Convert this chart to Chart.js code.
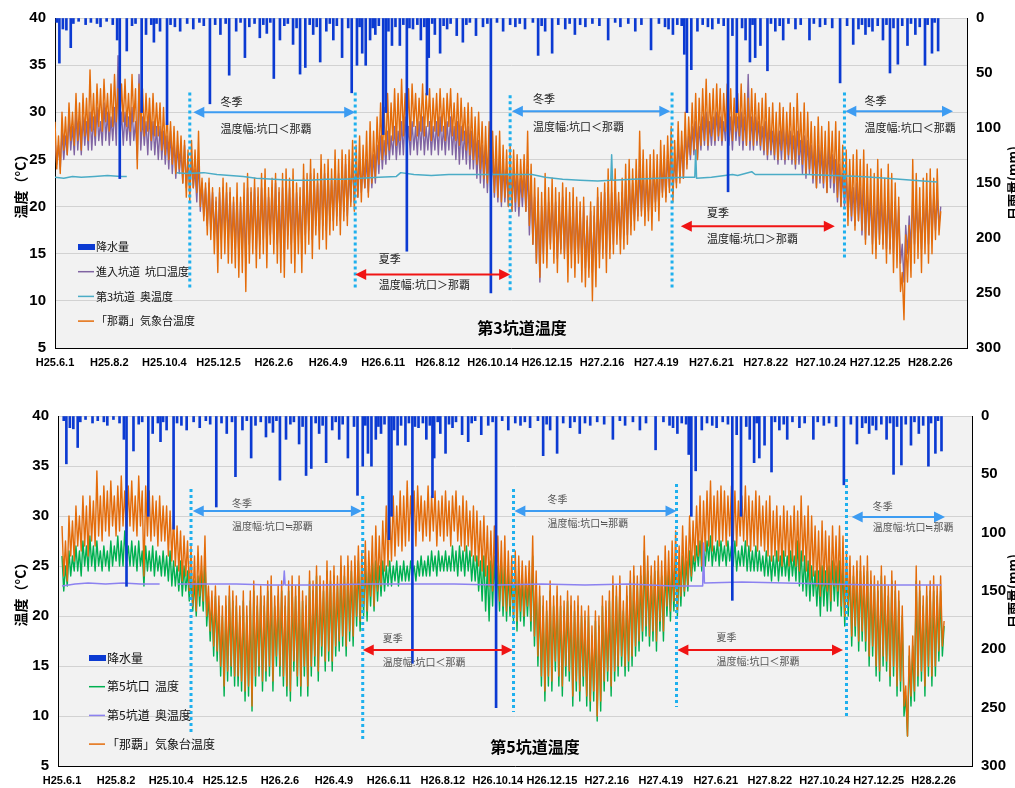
<!DOCTYPE html>
<html>
<head>
<meta charset="utf-8">
<script src="https://cdn.jsdelivr.net/npm/chart.js@4.4.1/dist/chart.umd.min.js"></script>
<style>
html, body { margin: 0; padding: 0; background: #fff; overflow: hidden; }
#box3 { position: absolute; left: 0; top: 0; }
#box5 { position: absolute; left: 0; top: 398px; }
</style>
</head>
<body>
<div id="box3"><canvas id="chart3" width="1015" height="390"></canvas></div>
<div id="box5"><canvas id="chart5" width="1015" height="390"></canvas></div>
<script>
// day 0 = H25.6.1
const tickDays = [0, 62, 125, 187, 250, 312, 375, 437, 500, 562, 625, 687, 750, 812, 875, 937, 1000];
const tickLabels = ['H25.6.1', 'H25.8.2', 'H25.10.4', 'H25.12.5', 'H26.2.6', 'H26.4.9', 'H26.6.11', 'H26.8.12',
  'H26.10.14', 'H26.12.15', 'H27.2.16', 'H27.4.19', 'H27.6.21', 'H27.8.22', 'H27.10.24', 'H27.12.25', 'H28.2.26'];

const TEMP_STEP = 2; // days between readings below, one row = 40 days

// 「那覇」気象台温度
const nahaTemp = [
  29, 24, 27.5, 23.5, 30, 26, 29.5, 25.5, 31, 27, 30, 26.5, 32, 27, 31, 26, 32, 27.5, 31.5, 27,
  34.5, 28, 32, 27.5, 33, 28.5, 32.5, 28, 33.5, 29, 32, 28, 33, 28.5, 34, 29, 32.5, 28, 33, 29,
  33.5, 28.5, 32, 28, 34, 29, 32.5, 24, 33, 28, 32.5, 27.5, 32, 28, 31.5, 27, 32, 27.5, 31, 27.5,
  31, 26, 30.5, 25.5, 30, 25, 29, 24.5, 28.5, 23.5, 28, 24, 27.5, 22.5, 27, 21, 26, 20.5, 27, 22,
  26, 21.5, 28, 20, 23, 18.5, 22.5, 17, 23, 16.5, 22, 15, 21, 13, 22, 14.5, 23, 15, 22.5, 14,
  22, 14, 21, 13.5, 22.5, 12.5, 21, 13, 22.5, 11, 23.5, 14, 22, 15, 23, 13.5, 22, 14.5, 23.5, 15,
  24, 13.5, 22, 16, 23, 15, 23.5, 14, 22, 13, 23.5, 12.5, 24, 15.5, 23, 14, 24, 13, 22.5, 15,
  22, 13, 24.5, 15, 23.5, 16, 25, 14.5, 24, 17, 23.5, 15.5, 25.5, 16.5, 24.5, 15.5, 25, 17, 24, 17.5,
  26, 18, 25, 17, 26, 18.5, 25.5, 18, 26, 20, 27, 19.5, 26.5, 21, 27.5, 20.5, 26.5, 22, 28, 21,
  29, 22.5, 28, 23, 29.5, 24.5, 31, 25, 30.5, 25.5, 32, 26, 31, 27, 32.5, 26.5, 32, 27, 33.5, 27.5,
  32, 28, 32.5, 27, 33, 28.5, 32, 27.5, 31.5, 28, 33, 27.5, 32, 28.5, 32.5, 27, 31.5, 28, 32, 27.5,
  32.5, 28, 31.5, 27, 32, 28.5, 32.5, 27.5, 31, 27, 32, 26.5, 31.5, 27, 30.5, 26, 31, 25.5, 30.5, 25,
  29.5, 24.5, 30, 24, 29, 23, 28.5, 22.5, 29, 22, 28, 21.5, 27.5, 21, 28, 20.5, 26.5, 21, 26, 20,
  26.5, 19.5, 26, 20.5, 25.5, 20, 25, 21, 25.5, 19.5, 28, 18, 24.5, 16, 23, 14, 22, 12.5, 21.5, 14,
  23.5, 13.5, 22, 15.5, 23, 14, 22, 13, 21.5, 15, 22.5, 14.5, 22, 12, 21.5, 13.5, 22, 12.5, 21, 14,
  20.5, 12, 21, 11.5, 19, 12.5, 20.5, 10, 20, 11.5, 22, 13.5, 21.5, 14.5, 22.5, 13, 24, 14.5, 23, 15,
  24, 16, 21.5, 15, 23, 15.5, 24.5, 16, 25, 17, 24, 17.5, 25, 18.5, 28, 19, 26, 18, 25, 18.5,
  25.5, 17.5, 26, 19.5, 25.5, 18.5, 27, 21, 26.5, 20.5, 27.5, 21.5, 28.5, 20.5, 27, 22, 29, 22.5, 28, 23,
  30, 24, 29.5, 25.5, 31, 26, 32, 25, 31.5, 26.5, 32.5, 27, 33.5, 26.5, 32, 27.5, 32.5, 27, 33, 27.5,
  32.5, 27, 32, 28, 33, 27.5, 32.5, 27, 31.5, 28, 32, 27.5, 33, 27, 32, 26.5, 31.5, 27, 32.5, 26.5,
  32, 27, 31, 26.5, 31.5, 26, 32, 25.5, 30.5, 26, 31, 25.5, 30, 25, 31, 26, 30.5, 25, 30, 25.5,
  31, 25, 30.5, 24.5, 32, 25.5, 30, 24.5, 31, 23.5, 30, 24, 29, 23, 28.5, 22, 29.5, 23, 28.5, 22.5,
  28, 21.5, 29, 23, 28, 22.5, 29, 21, 28, 20, 26.5, 21, 26, 18, 25, 19, 25.5, 17.5, 26, 18.5,
  25, 17.5, 26, 16, 24.5, 17, 24, 15, 23.5, 14.5, 25, 16, 24, 15.5, 23, 14, 24.5, 15, 23.5, 13,
  22.5, 13.5, 21, 11, 13, 8, 17, 12, 18, 12.5, 25, 14, 23.5, 14.5, 22, 13, 23, 15, 23.5, 14,
  24, 15, 23, 16.5, 24, 17, 19.5
];

// 進入坑道 坑口温度 (第3坑道)
const shaft3EntranceTemp = [
  27, 24.5, 26.5, 24, 28, 25, 27.5, 25.5, 29.5, 26, 28.5, 25.5, 30, 26, 29, 25.5, 29.5, 26.5, 29, 26,
  30, 26, 29.5, 26.5, 30.5, 27, 29, 26.5, 31, 27, 30, 26.5, 29.5, 27, 30.5, 26.5, 36, 27, 30, 26.5,
  30, 27, 29.5, 26.5, 30.5, 27, 29, 25, 34, 26, 29.5, 26.5, 29, 25.5, 30, 26, 29, 25.5, 28.5, 25,
  28.5, 25, 28, 24.5, 27.5, 24, 28, 23.5, 27, 23, 26.5, 23.5, 26, 22.5, 26.5, 22, 25.5, 21.5, 25, 22,
  24, 20.5, 25, 19.5, 22.5, 19, 22, 18, 22.5, 17.5, 21.5, 17, 20.5, 16, 21.5, 16.5, 22, 17, 21.5, 16.5,
  21.5, 16, 20.5, 15.5, 21, 15, 20.5, 15.5, 21, 14, 22, 16, 21.5, 16.5, 22, 15.5, 21, 16, 22, 16.5,
  22.5, 16, 21, 17, 22, 16.5, 22.5, 16, 21.5, 15.5, 22, 15, 22.5, 17, 22, 16, 22.5, 15.5, 21.5, 17,
  21, 15.5, 23, 17, 22.5, 17.5, 23.5, 16.5, 23, 18, 22.5, 17.5, 24, 18, 23.5, 17.5, 23.5, 18.5, 23, 18.5,
  24, 19, 23.5, 18.5, 24, 19.5, 24.5, 19, 24, 20.5, 25, 20.5, 24.5, 21, 25, 21.5, 24.5, 22, 25, 21.5,
  26, 22, 25.5, 22.5, 26.5, 23.5, 27.5, 24, 27, 24.5, 28, 25, 27.5, 25.5, 28.5, 25, 28, 25.5, 29, 25.5,
  29.5, 26, 28.5, 25.5, 29, 26, 28.5, 25.5, 29, 26, 29.5, 25.5, 28.5, 26, 29, 25.5, 28.5, 26, 29, 25.5,
  29.5, 26, 28.5, 25.5, 29, 26, 29.5, 25.5, 28.5, 25, 29, 24.5, 28.5, 25, 28, 24.5, 28.5, 24, 28, 24,
  27.5, 23, 27, 22.5, 26.5, 22, 26.5, 21.5, 26, 21, 25.5, 21, 25, 20.5, 25.5, 20, 24.5, 20.5, 24, 20,
  24.5, 19.5, 24, 19.5, 23.5, 19, 23, 20, 23.5, 19.5, 24, 17, 22, 16, 21, 14, 20.5, 12, 20, 15,
  21.5, 15, 20.5, 16, 21, 15.5, 20.5, 14.5, 20, 15.5, 21, 15, 20.5, 14, 20, 15, 20.5, 14, 20, 15,
  19.5, 14, 20, 13.5, 18.5, 13.5, 19.5, 13, 19, 13.5, 21, 15, 20.5, 15.5, 21.5, 15, 22, 15.5, 21.5, 16,
  22, 17, 20.5, 16.5, 21.5, 17, 22.5, 17, 23, 18, 22.5, 18.5, 23, 19, 24, 19.5, 23.5, 19, 23, 19.5,
  23.5, 19, 24, 20.5, 23.5, 20, 25, 21.5, 24.5, 21, 25.5, 22, 26, 21.5, 25, 22.5, 27, 23, 26.5, 23,
  28, 24.5, 27.5, 25, 28.5, 25.5, 29, 25, 28.5, 26, 29.5, 26.5, 30, 26, 29, 26.5, 29.5, 26.5, 30, 27,
  29.5, 26.5, 29, 27, 30, 26.5, 29.5, 26, 30.5, 27, 29.5, 26.5, 30, 26, 29.5, 26.5, 34, 26, 29.5, 26,
  29.5, 26.5, 29, 26, 28.5, 25.5, 29, 25, 28.5, 25.5, 28, 25, 28.5, 24.5, 28, 25, 28.5, 24.5, 28, 25,
  28, 24.5, 27.5, 24, 28, 24.5, 27, 23.5, 27.5, 23, 27, 23.5, 26.5, 22.5, 26, 22, 26.5, 22.5, 26, 22,
  26, 21.5, 26.5, 22, 25.5, 21.5, 25, 20.5, 24.5, 20, 23.5, 20, 23, 19, 22.5, 18.5, 22, 18, 22.5, 18.5,
  22, 17, 22.5, 16.5, 21.5, 17, 21, 16, 20.5, 15.5, 21.5, 16.5, 21, 16, 20.5, 15.5, 21, 15.5, 20.5, 15,
  20.5, 15.5, 20, 14, 16, 12, 18, 15, 19, 15.5, 21, 16, 20.5, 16.5, 20, 15.5, 20.5, 16.5, 21, 16,
  21.5, 17, 21, 17.5, 21, 18, 20
];

// 第5坑口 温度
const shaft5EntranceTemp = [
  26, 22.5, 25, 23, 26.5, 24, 26, 24.5, 27, 24.5, 26.5, 24, 27.5, 25, 27, 24.5, 28, 25, 27, 24.5,
  27.5, 25, 26.5, 24.5, 27, 25, 26.5, 24.5, 27.5, 25, 27, 25.5, 28, 25, 27.5, 25, 28.5, 25.5, 27, 25,
  27.5, 25, 27, 24.5, 27.5, 25, 26.5, 23, 27, 24.5, 26.5, 24.5, 27, 24, 26.5, 24.5, 26, 24, 26.5, 24,
  26, 23.5, 26.5, 23, 25.5, 23, 25, 22.5, 25.5, 22, 25, 22.5, 24.5, 21.5, 24, 20.5, 23.5, 20, 24, 21,
  24.5, 20.5, 26, 19, 22, 17.5, 21.5, 16, 22, 15.5, 21, 14, 20, 12, 21, 13.5, 22, 14, 21.5, 13,
  21, 13, 20, 12.5, 21.5, 11.5, 20, 12, 21.5, 10.5, 22.5, 13, 21, 14, 22, 12.5, 21, 13.5, 22.5, 14,
  23, 12.5, 21, 15, 22, 14, 22.5, 13, 21, 12, 22.5, 11.5, 23, 14.5, 22, 13, 23, 12, 21.5, 14,
  21, 12, 23.5, 14, 22.5, 15, 24, 13.5, 23, 16, 22.5, 14.5, 24.5, 15.5, 23.5, 14.5, 24, 16, 23, 16.5,
  25, 17, 24, 16, 25, 17.5, 24.5, 17, 25, 19, 25.5, 18.5, 25, 20, 25.5, 19.5, 25, 21, 25.5, 20.5,
  25.5, 21.5, 25, 22, 25.5, 22.5, 25, 23, 25.5, 23, 25, 23.5, 25.5, 23, 25, 23.5, 25.5, 23.5, 25, 23.5,
  25.5, 24, 25, 23.5, 25.5, 24, 26, 24, 25.5, 24, 26, 24, 26.5, 24.5, 26, 24, 26.5, 24.5, 26, 24.5,
  26.5, 24.5, 26, 24.5, 27, 24.5, 26.5, 24, 27, 24.5, 26.5, 24, 27, 24.5, 26.5, 23.5, 26, 23.5, 26, 22.5,
  25.5, 21.5, 26, 20.5, 25, 19.5, 25.5, 21, 26, 20, 25, 20.5, 25.5, 20, 25, 19.5, 24.5, 20, 24, 19.5,
  25, 18.5, 24.5, 19.5, 24, 19, 23.5, 20, 24, 18.5, 26, 17, 23, 15, 22, 13, 21, 11.5, 20.5, 13,
  22.5, 12.5, 21, 14.5, 22, 13, 21, 12, 20.5, 14, 21.5, 13.5, 21, 11, 20.5, 12.5, 21, 11.5, 20, 13,
  19.5, 11, 20, 10.5, 18, 11.5, 19.5, 9.5, 19, 10.5, 21, 12.5, 20.5, 13.5, 21.5, 12, 23, 13.5, 22, 14,
  23, 15, 20.5, 14, 22, 14.5, 23.5, 15, 24, 16, 23, 16.5, 24, 17.5, 26.5, 18, 24.5, 17, 24, 17.5,
  24.5, 16.5, 24.5, 18.5, 24, 17.5, 25, 20, 24.5, 19.5, 25, 20.5, 25.5, 20, 25, 21, 26, 22, 25.5, 22.5,
  26.5, 23.5, 26, 24.5, 27, 25, 27.5, 24.5, 27, 25, 27.5, 25.5, 28, 25, 27, 25.5, 27.5, 25, 27.5, 25.5,
  27, 25, 27.5, 25.5, 27, 25, 27.5, 24.5, 26.5, 25, 27, 25, 27.5, 24.5, 27, 24.5, 26.5, 24.5, 27, 24.5,
  26.5, 24.5, 26, 24, 26.5, 24, 26, 23.5, 26, 24, 26.5, 23.5, 26, 24, 26.5, 24, 26, 23.5, 26.5, 24,
  26, 23.5, 27.5, 23, 26.5, 22.5, 26, 22, 25.5, 21.5, 25, 22, 24.5, 21, 24.5, 20, 25, 21, 24.5, 20.5,
  25, 20.5, 25.5, 21.5, 25, 21, 25.5, 20, 25, 19, 24.5, 20, 24.5, 17, 24, 18, 24.5, 16.5, 24.5, 17.5,
  24, 16.5, 24.5, 15, 23.5, 16, 23, 14, 22.5, 13.5, 24, 15, 23, 14.5, 22, 13, 23.5, 14, 22.5, 12,
  21.5, 12.5, 20, 10, 12, 8, 16, 11, 17, 11.5, 23.5, 13, 22.5, 13.5, 21, 12, 22, 14, 22.5, 13,
  22.5, 14, 22, 15.5, 22.5, 16, 19
];

// 第3坑道 奥温度 (null = no record)
const shaft3InnerDays = [0, 10, 20, 30, 45, 60, 75, 82, 83, 139, 150, 170, 185, 200, 215, 230, 250, 270, 290, 310,
  330, 350, 370, 390, 395, 410, 430, 450, 470, 490, 510, 530, 545, 560, 580, 600, 620, 635, 636, 637,
  660, 690, 720, 731, 732, 733, 750, 774, 780, 796, 800, 830, 860, 890, 920, 950, 980, 1008];
const shaft3InnerTemp = [23.1, 23.0, 23.2, 23.1, 23.2, 23.3, 23.2, 23.2, null, 23.6, 23.5, 23.6, 23.4, 23.3, 23.2, 23.0, 22.9, 22.8, 22.8, 22.9,
  22.9, 23.0, 23.1, 23.2, 23.6, 23.4, 23.3, 23.4, 23.4, 23.4, 23.4, 23.4, 23.4, 23.1, 22.9, 22.8, 22.7, 22.8, 25.5, 22.8,
  22.9, 23.0, 23.1, 23.1, 26.0, 23.0, 23.1, 23.4, 23.3, 23.7, 23.4, 23.4, 23.4, 23.3, 23.2, 23.0, 22.8, 22.6];

// 第5坑道 奥温度
const shaft5InnerDays = [0, 15, 30, 50, 70, 90, 112, 113, 133, 160, 200, 240, 254, 255, 256, 300, 350, 400, 450, 500,
  550, 600, 650, 700, 735, 736, 737, 780, 830, 880, 930, 1009];
const shaft5InnerTemp = [23.0, 23.2, 23.3, 23.2, 23.3, 23.2, 23.2, null, 23.2, 23.2, 23.2, 23.1, 23.1, 24.5, 23.1, 23.1, 23.2, 23.2, 23.2, 23.1,
  23.2, 23.1, 23.2, 23.0, 23.0, 27.3, 23.3, 23.4, 23.3, 23.2, 23.1, 23.1];

// 降水量 (mm/day)
const rainDays = [2, 5, 9, 13, 18, 21, 27, 35, 41, 48, 52, 59, 66, 71, 74, 82, 88, 92, 99, 104,
  110, 113, 116, 120, 128, 132, 137, 143, 151, 158, 165, 170, 177, 183, 189, 195, 199, 207, 212, 217,
  222, 228, 234, 238, 242, 246, 250, 257, 262, 266, 272, 276, 280, 286, 291, 295, 299, 303, 310, 314,
  318, 322, 328, 335, 339, 345, 348, 351, 355, 360, 363, 366, 370, 375, 378, 381, 385, 389, 394, 398,
  402, 405, 409, 414, 418, 422, 425, 427, 431, 434, 440, 444, 448, 452, 459, 466, 470, 474, 481, 489,
  494, 498, 505, 512, 520, 526, 531, 537, 546, 552, 556, 560, 568, 575, 583, 588, 594, 600, 606, 614,
  622, 632, 640, 646, 655, 663, 670, 681, 690, 697, 701, 706, 711, 716, 719, 722, 727, 734, 740, 746,
  751, 758, 764, 769, 774, 779, 785, 789, 794, 797, 800, 806, 814, 818, 823, 828, 832, 838, 846, 852,
  862, 867, 874, 880, 888, 897, 905, 912, 918, 922, 926, 930, 934, 940, 946, 950, 954, 958, 963, 968,
  974, 978, 983, 988, 994, 997, 1002, 1005, 1009];
const rainMm = [4, 41, 10, 11, 27, 5, 3, 6, 4, 5, 8, 3, 6, 20, 146, 30, 7, 5, 86, 15,
  6, 22, 5, 12, 97, 6, 8, 12, 5, 10, 4, 7, 78, 6, 15, 5, 52, 12, 4, 36,
  8, 5, 18, 6, 14, 4, 55, 20, 7, 5, 24, 9, 51, 45, 6, 15, 8, 40, 12, 5,
  20, 7, 36, 9, 68, 43, 8, 32, 43, 20, 9, 15, 7, 106, 86, 12, 25, 8, 25, 6,
  212, 9, 10, 6, 20, 8, 70, 36, 5, 15, 32, 7, 10, 5, 16, 22, 6, 4, 16, 8,
  5, 250, 4, 12, 6, 8, 5, 10, 4, 34, 7, 12, 32, 6, 10, 5, 15, 6, 8, 5,
  7, 20, 4, 8, 5, 12, 6, 29, 5, 8, 10, 15, 6, 7, 33, 86, 47, 12, 6, 8,
  10, 5, 7, 158, 16, 86, 9, 20, 40, 6, 36, 25, 48, 5, 12, 7, 20, 5, 10, 6,
  20, 5, 8, 6, 9, 59, 7, 24, 10, 6, 15, 8, 12, 7, 20, 6, 50, 9, 42, 7,
  25, 5, 15, 8, 43, 6, 32, 4, 30];

const NARROW = "'Liberation Sans Narrow', 'Liberation Sans', Arial, sans-serif";
const JP = "'Noto Sans CJK JP', sans-serif";
const ORANGE = '#e46c0a';
const RAIN = '#0b3ad2';
const WINTER = '#3d9cf2';
const SUMMER = '#f01414';

const series = vals => vals.map((v, i) => ({ x: i * TEMP_STEP, y: v }));
const pairs = (days, vals) => days.map((d, i) => ({ x: d, y: vals[i] }));

function arrow(ctx, x1, x2, y, color) {
  const h = 11, w = 5.5;
  ctx.strokeStyle = color; ctx.fillStyle = color; ctx.lineWidth = 2;
  ctx.beginPath(); ctx.moveTo(x1 + h - 1, y); ctx.lineTo(x2 - h + 1, y); ctx.stroke();
  ctx.beginPath(); ctx.moveTo(x1, y); ctx.lineTo(x1 + h, y - w); ctx.lineTo(x1 + h, y + w); ctx.closePath(); ctx.fill();
  ctx.beginPath(); ctx.moveTo(x2, y); ctx.lineTo(x2 - h, y - w); ctx.lineTo(x2 - h, y + w); ctx.closePath(); ctx.fill();
}

function overlay(n) {
  return {
    id: 'overlay',
    beforeDraw(chart) {
      const { ctx, chartArea: a } = chart;
      ctx.save();
      ctx.fillStyle = '#f2f2f2';
      ctx.fillRect(a.left, a.top, a.right - a.left, a.bottom - a.top);
      ctx.restore();
    },
    afterDatasetsDraw(chart) {
      const { ctx, chartArea: a } = chart;
      const px = d => chart.scales.x.getPixelForValue(d);
      const py = t => chart.scales.y.getPixelForValue(t);
      ctx.save();
      // season boundaries
      ctx.strokeStyle = '#1eb0ee'; ctx.lineWidth = 3; ctx.setLineDash([3, 3]);
      n.bounds.forEach(b => {
        ctx.beginPath(); ctx.moveTo(px(b[0]), py(b[1])); ctx.lineTo(px(b[0]), py(b[2])); ctx.stroke();
      });
      ctx.setLineDash([]);
      n.winter.forEach(w => arrow(ctx, px(w[0]), px(w[1]), py(w[2]), WINTER));
      n.summer.forEach(s => arrow(ctx, px(s[0]), px(s[1]), py(s[2]), SUMMER));

      ctx.fillStyle = n.noteColor;
      ctx.font = n.noteFont;
      ctx.textAlign = 'left'; ctx.textBaseline = 'middle';
      n.winterText.forEach(t => {
        ctx.fillText('冬季', px(t[0]), py(t[1]));
        ctx.fillText(n.winterNote, px(t[0]), py(t[2]));
      });
      n.summerText.forEach(t => {
        ctx.fillText('夏季', px(t[0]), py(t[1]));
        ctx.fillText(n.summerNote, px(t[0]), py(t[2]));
      });

      // legend inside the plot
      const items = n.legendOrder.map(i => chart.data.datasets[i]);
      ctx.font = n.legendFont;
      items.forEach((ds, k) => {
        const y = n.legend.y + k * n.legend.gap, x = n.legend.x;
        if (ds.type === 'bar') {
          ctx.fillStyle = ds.backgroundColor; ctx.fillRect(x, y - 3, 17, 6);
        } else {
          ctx.strokeStyle = ds.borderColor; ctx.lineWidth = 1.5;
          ctx.beginPath(); ctx.moveTo(x, y); ctx.lineTo(x + 16, y); ctx.stroke();
        }
        ctx.fillStyle = '#111';
        ctx.fillText(ds.label, x + 18, y);
      });

      // chart title
      ctx.font = "bold 16px " + JP; ctx.fillStyle = '#000'; ctx.textAlign = 'center';
      ctx.fillText(n.title, n.titlePos[0], n.titlePos[1]);

      // right axis title (reads bottom to top, cut by the window edge)
      ctx.save();
      ctx.translate(1013, (a.top + a.bottom) / 2);
      ctx.rotate(-Math.PI / 2);
      ctx.font = "bold 13px " + JP;
      ctx.fillText('日雨量(mm)', 0, 0);
      ctx.restore();
      ctx.restore();
    }
  };
}

function makeChart(id, o) {
  return new Chart(document.getElementById(id), {
    type: 'line',
    data: {
      datasets: [
        { type: 'bar', label: '降水量', data: pairs(rainDays, rainMm), yAxisID: 'yR',
          backgroundColor: RAIN, barThickness: 2, borderWidth: 0, order: 0 },
        { label: o.innerLabel, data: pairs(o.innerDays, o.innerTemp), borderColor: o.innerColor,
          borderWidth: 1.5, order: 1 },
        { label: '「那覇」気象台温度', data: series(nahaTemp), borderColor: ORANGE, borderWidth: 1.4, order: 2 },
        { label: o.entranceLabel, data: series(o.entranceTemp), borderColor: o.entranceColor, borderWidth: 1.4, order: 3 }
      ]
    },
    options: {
      responsive: false,
      animation: false,
      devicePixelRatio: 1,
      layout: { padding: { top: o.padTop, bottom: o.padBottom, left: 0, right: 0 } },
      elements: {
        point: { radius: 0 },
        line: { tension: 0, borderJoinStyle: 'round', spanGaps: false }
      },
      plugins: { legend: { display: false }, tooltip: { enabled: false } },
      scales: {
        x: {
          type: 'linear', min: o.xMin, max: o.xMax, offset: false,
          afterBuildTicks: s => { s.ticks = tickDays.map(v => ({ value: v })); },
          afterFit: s => { s.height = 22; },
          ticks: {
            autoSkip: false, maxRotation: 0, padding: 8, color: '#000',
            font: { family: NARROW, size: 11, weight: 'bold' },
            callback: v => tickLabels[tickDays.indexOf(v)]
          },
          grid: { drawOnChartArea: false, drawTicks: false, offset: false },
          border: { color: '#000', width: 1 }
        },
        y: {
          position: 'left', min: 5, max: 40,
          afterFit: s => { s.width = o.leftW; },
          ticks: { stepSize: 5, padding: 9, color: '#000', font: { family: NARROW, size: 15, weight: 'bold' } },
          grid: { color: '#d2d2d2', drawTicks: false },
          border: { color: '#000', width: 1 },
          title: { display: true, text: '温度（°C）', color: '#000', padding: { top: 12, bottom: 0 },
            font: { family: JP, size: 14, weight: 'bold' } }
        },
        yR: {
          position: 'right', reverse: true, min: 0, max: 300,
          afterFit: s => { s.width = o.rightW; },
          ticks: { stepSize: 50, padding: 9, color: '#000', font: { family: NARROW, size: 15, weight: 'bold' } },
          grid: { drawOnChartArea: false, drawTicks: false },
          border: { color: '#000', width: 1 }
        }
      }
    },
    plugins: [overlay(o.notes)]
  });
}

makeChart('chart3', {
  innerLabel: '第3坑道  奥温度', innerDays: shaft3InnerDays, innerTemp: shaft3InnerTemp, innerColor: '#4bacc6',
  entranceLabel: '進入坑道  坑口温度', entranceTemp: shaft3EntranceTemp, entranceColor: '#8064a2',
  padTop: 15, padBottom: 20, leftW: 55, rightW: 48, xMin: 0, xMax: 1042,
  notes: {
    bounds: [[154, 32.1, 11.4], [343, 32.1, 11.1], [520, 31.8, 11.1], [705, 32.1, 11.4], [902, 32.1, 14.3]],
    winter: [[158, 343, 30.0], [522, 703, 30.1], [903, 1026, 30.1]],
    winterText: [[189, 31.1, 28.2], [546, 31.4, 28.5], [925, 31.2, 28.4]],
    summer: [[343, 520, 12.8], [715, 891, 17.9]],
    summerText: [[370, 14.5, 11.7], [745, 19.3, 16.6]],
    winterNote: '温度幅:坑口＜那覇', summerNote: '温度幅:坑口＞那覇',
    noteColor: '#222', noteFont: "11px " + JP,
    legendOrder: [0, 3, 1, 2], legend: { x: 78, y: 247, gap: 24.7 }, legendFont: "11px " + JP,
    title: '第3坑道温度', titlePos: [522, 328]
  }
});

makeChart('chart5', {
  innerLabel: '第5坑道  奥温度', innerDays: shaft5InnerDays, innerTemp: shaft5InnerTemp, innerColor: '#8c82f0',
  entranceLabel: '第5坑口  温度', entranceTemp: shaft5EntranceTemp, entranceColor: '#00b050',
  padTop: 18, padBottom: 0, leftW: 58, rightW: 43, xMin: -4.6, xMax: 1044,
  notes: {
    bounds: [[148, 32.7, 8.4], [345, 32.0, 7.6], [518, 32.7, 10.4], [705, 33.2, 10.9], [900, 33.7, 9.9]],
    winter: [[150, 344, 30.5], [519, 705, 30.5], [906, 1013, 29.9]],
    winterText: [[195, 31.3, 29.0], [557, 31.7, 29.3], [930, 31.0, 28.9]],
    summer: [[345, 517, 16.6], [706, 896, 16.6]],
    summerText: [[368, 17.8, 15.4], [751, 17.9, 15.5]],
    winterNote: '温度幅:坑口≒那覇', summerNote: '温度幅:坑口＜那覇',
    noteColor: '#555', noteFont: "10px " + JP,
    legendOrder: [0, 3, 1, 2], legend: { x: 89, y: 260, gap: 28.7 }, legendFont: "12px " + JP,
    title: '第5坑道温度', titlePos: [535, 349]
  }
});
</script>
</body>
</html>
